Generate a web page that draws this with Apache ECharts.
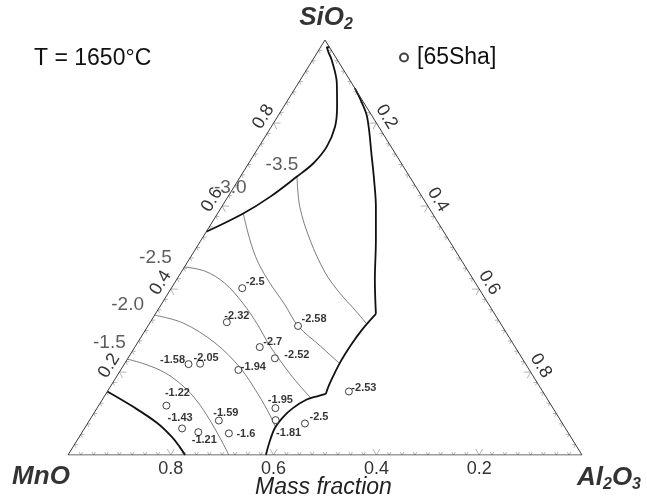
<!DOCTYPE html>
<html>
<head>
<meta charset="utf-8">
<script src="https://cdn.jsdelivr.net/npm/echarts@6/dist/echarts.min.js"></script>
<style>
  html, body { margin: 0; padding: 0; background: #fff; }
  #chart { width: 647px; height: 503px; }
</style>
</head>
<body>
<div id="chart"></div>
<script>
// MnO–SiO2–Al2O3 at 1650 °C, mass fractions; log a(MnO) measurements [65Sha]
const pointMnO   = [0.460, 0.531, 0.397, 0.497, 0.481, 0.656, 0.633, 0.566, 0.377, 0.749, 0.540, 0.665, 0.554, 0.501, 0.746, 0.719, 0.661];
const pointSiO2  = [0.402, 0.320, 0.311, 0.260, 0.233, 0.219, 0.220, 0.205, 0.153, 0.119, 0.113, 0.083, 0.084, 0.076, 0.064, 0.055, 0.052];
const pointAl2O3 = [0.138, 0.149, 0.292, 0.243, 0.286, 0.125, 0.147, 0.229, 0.470, 0.132, 0.347, 0.252, 0.362, 0.423, 0.190, 0.226, 0.287];
const pointLogA  = [-2.5, -2.32, -2.58, -2.7, -2.52, -1.58, -2.05, -1.94, -2.53, -1.22, -1.95, -1.59, -1.81, -2.5, -1.43, -1.21, -1.6];

// axis tick values (mass fraction)
const axisTicks = [0.2, 0.4, 0.6, 0.8];

// iso-activity lines, log a(MnO); points as [SiO2, Al2O3], MnO is the balance
const contourLevels = [-1.5, -2.0, -2.5, -3.0, -3.5];
const iso15 = [[0.231, 0], [0.219, 0.040], [0.198, 0.090], [0.166, 0.141], [0.130, 0.186], [0.084, 0.234], [0.036, 0.280], [0, 0.313]];
const iso20 = [[0.337, 0], [0.318, 0.065], [0.270, 0.151], [0.210, 0.230], [0.147, 0.296], [0.096, 0.345], [0.065, 0.372]];
const iso25 = [[0.453, 0], [0.443, 0.045], [0.414, 0.098], [0.366, 0.157], [0.313, 0.213], [0.270, 0.254], [0.234, 0.292], [0.186, 0.345], [0.137, 0.404]];
const iso30 = [[0.582, 0.050], [0.518, 0.095], [0.465, 0.137], [0.414, 0.186], [0.361, 0.242], [0.311, 0.292], [0.263, 0.359], [0.222, 0.416]];
const iso35 = [[0.671, 0.110], [0.598, 0.152], [0.518, 0.212], [0.439, 0.281], [0.390, 0.334], [0.349, 0.384], [0.317, 0.422]];

// liquidus boundaries, [SiO2, Al2O3]
const liqMnO      = [[0.153, 0], [0.116, 0.069], [0.077, 0.135], [0.043, 0.181], [0.019, 0.208], [0, 0.228]];
const liqSpinel   = [[0, 0.385], [0.029, 0.377], [0.065, 0.370], [0.092, 0.373], [0.113, 0.381], [0.133, 0.397], [0.142, 0.415], [0.147, 0.428]];
const liqMullite  = [[0.147, 0.428], [0.173, 0.423], [0.222, 0.418], [0.265, 0.418], [0.301, 0.421], [0.340, 0.429]];
const liqAl2O3    = [[0.340, 0.429], [0.422, 0.386], [0.518, 0.340], [0.598, 0.300], [0.663, 0.264], [0.718, 0.232], [0.814, 0.175], [0.855, 0.142], [0.884, 0.116]];
const liqSiO2     = [[0.538, 0], [0.582, 0.050], [0.622, 0.082], [0.671, 0.110], [0.703, 0.126], [0.743, 0.132], [0.791, 0.124], [0.839, 0.104], [0.896, 0.075], [0.952, 0.037], [0.971, 0.021], [0.983, 0.012], [0.982, 0.018]];

// label placement (pixels, text centre relative to the marker)
const pointLabelShift = [[13, -6], [10, -6], [16, -7], [13, -5], [22, -3], [-16, -4], [6, -6], [15, -3], [15, -4], [11, -13], [5, -8], [7, -8], [13, 13], [14, -6], [-2, -10], [6, 8], [17, 1]];
const contourLabelShift = [[-18, -16], [-27, -10], [-29, -9], [-13, -26], [-15, -12]];

// ternary composition -> cartesian position inside the triangle
function tern(si, al, mn) {
  const sum = mn === undefined ? 1 : si + al + mn;
  const s = si / sum, a = al / sum;
  return [a + s / 2, s];
}

const FONT = '"Liberation Sans", Arial, sans-serif';

// edge ticks: every 0.025, major every 0.2
const tickData = [];
for (let k = 1; k < 40; k++) {
  const v = k * 0.025;
  const major = k % 8 === 0 ? 1 : 0;
  tickData.push(tern(0, 1 - v).concat([0, major]));   // MnO along the base
  tickData.push(tern(v, 0).concat([1, major]));       // SiO2 along the left edge
  tickData.push(tern(1 - v, v).concat([2, major]));   // Al2O3 along the right edge
}
const tickLabelData = [];
axisTicks.forEach(v => {
  tickLabelData.push(tern(0, 1 - v).concat([0, v]));
  tickLabelData.push(tern(v, 0).concat([1, v]));
  tickLabelData.push(tern(1 - v, v).concat([2, v]));
});

function edgeFrame(api, edge) {
  const L = api.coord([0, 0]), R = api.coord([1, 0]), T = api.coord([0.5, 1]);
  const C = [(L[0] + R[0] + T[0]) / 3, (L[1] + R[1] + T[1]) / 3];
  const ends = edge === 0 ? [L, R] : edge === 1 ? [L, T] : [T, R];
  const dx = ends[1][0] - ends[0][0], dy = ends[1][1] - ends[0][1];
  const len = Math.hypot(dx, dy);
  const t = [dx / len, dy / len];
  let n = [-t[1], t[0]];
  const mid = [(ends[0][0] + ends[1][0]) / 2, (ends[0][1] + ends[1][1]) / 2];
  if ((C[0] - mid[0]) * n[0] + (C[1] - mid[1]) * n[1] < 0) n = [-n[0], -n[1]];
  return { t, n };
}

function lineSeries(name, pts, color, width, smooth) {
  return {
    name, type: 'line', silent: true, symbol: 'none', smooth: smooth,
    data: pts.map(p => tern(p[0], p[1])),
    lineStyle: { color, width }, z: 3
  };
}

const isoSets = [iso15, iso20, iso25, iso30, iso35];

const series = [
  {
    name: 'frame', type: 'line', silent: true, symbol: 'none',
    data: [tern(0, 0), tern(0, 1), tern(1, 0), tern(0, 0)],
    lineStyle: { color: '#3a3a3a', width: 1 }, z: 4
  },
  {
    name: 'ticks', type: 'custom', silent: true,
    data: tickData, encode: { x: 0, y: 1 },
    renderItem(params, api) {
      const p = api.coord([api.value(0), api.value(1)]);
      const f = edgeFrame(api, api.value(2));
      const w = api.value(3) ? 3.5 : 1.8, h = api.value(3) ? 6 : 3;
      return {
        type: 'polyline',
        shape: { points: [
          [p[0] - w * f.t[0] + h * f.n[0], p[1] - w * f.t[1] + h * f.n[1]],
          [p[0], p[1]],
          [p[0] + w * f.t[0] + h * f.n[0], p[1] + w * f.t[1] + h * f.n[1]]
        ] },
        style: { stroke: '#b5b5b5', fill: null, lineWidth: 1 }
      };
    }, z: 2
  },
  {
    name: 'tickLabels', type: 'custom', silent: true,
    data: tickLabelData, encode: { x: 0, y: 1 },
    renderItem(params, api) {
      const p = api.coord([api.value(0), api.value(1)]);
      const edge = api.value(2);
      const f = edgeFrame(api, edge);
      const d = edge === 0 ? 14 : 12;
      const ang = Math.atan2(-f.t[1], f.t[0]);
      return {
        type: 'text',
        x: p[0] - d * f.n[0], y: p[1] - d * f.n[1],
        rotation: edge === 0 ? 0 : ang,
        style: {
          text: api.value(3).toFixed(1), fill: '#333', font: '18px ' + FONT,
          align: 'center', verticalAlign: 'middle', textAlign: 'center', textVerticalAlign: 'middle'
        }
      };
    }, z: 5
  }
];

isoSets.forEach((pts, i) => series.push(lineSeries('iso' + i, pts, '#5a5a5a', 0.8, 0.35)));
[liqMnO, liqSpinel, liqMullite, liqAl2O3, liqSiO2].forEach((pts, i) =>
  series.push(lineSeries('liq' + i, pts, '#111', 1.8, 0.35)));

series.push({
  name: 'contourLabels', type: 'scatter', silent: true, symbolSize: 0,
  data: isoSets.map((pts, i) => ({
    value: tern(pts[0][0], pts[0][1]),
    label: { offset: contourLabelShift[i] }
  })),
  label: {
    show: true, position: 'inside', color: '#333', fontSize: 19, fontFamily: FONT,
    formatter: p => contourLevels[p.dataIndex].toFixed(1)
  }, z: 6
});

series.push({
  name: '[65Sha]', type: 'scatter', symbol: 'circle', symbolSize: 7,
  itemStyle: { color: '#fff', borderColor: '#111', borderWidth: 1 },
  data: pointLogA.map((v, i) => ({
    value: tern(pointSiO2[i], pointAl2O3[i], pointMnO[i]),
    label: { offset: pointLabelShift[i] }
  })),
  label: {
    show: true, position: 'inside', color: '#000', fontSize: 11, fontWeight: 'bold', fontFamily: FONT,
    formatter: p => String(pointLogA[p.dataIndex])
  }, z: 7
});

// component names at the corners
const vertexRich = {
  b: { fontSize: 26, fontWeight: 'bold', fontStyle: 'italic', fontFamily: FONT, color: '#000' },
  s: { fontSize: 16, fontWeight: 'bold', fontStyle: 'italic', fontFamily: FONT, color: '#000', padding: [14, 0, 0, 0] }
};
series.push({
  name: 'vertices', type: 'scatter', silent: true, symbolSize: 0,
  data: [
    { value: tern(0, 0, 1), label: { offset: [-27, 22], formatter: '{b|MnO}' } },
    { value: tern(1, 0, 0), label: { offset: [1, -22], formatter: '{b|SiO}{s|2}' } },
    { value: tern(0, 1, 0), label: { offset: [27, 23], formatter: '{b|Al}{s|2}{b|O}{s|3}' } }
  ],
  label: { show: true, position: 'inside', rich: vertexRich }, z: 6
});

const option = {
  animation: false,
  backgroundColor: '#fff',
  title: {
    text: 'T = 1650°C', left: 29, top: 42,
    textStyle: { fontSize: 23, fontWeight: 'normal', color: '#111', fontFamily: FONT }
  },
  legend: {
    data: ['[65Sha]'], left: 394, top: 41, icon: 'circle',
    itemWidth: 8, itemHeight: 8, itemGap: 6,
    textStyle: { fontSize: 23, color: '#111', fontFamily: FONT, padding: [0, 0, 0, 4] }
  },
  grid: { left: 68, top: 40, width: 514, height: 415 },
  xAxis: { type: 'value', min: 0, max: 1, show: false },
  yAxis: { type: 'value', min: 0, max: 1, show: false },
  graphic: [{
    type: 'text', left: 'center', top: 476,
    style: { text: 'Mass fraction', font: 'italic 23px ' + FONT, fill: '#222' }
  }],
  series
};

const chart = echarts.init(document.getElementById('chart'));
chart.setOption(option);
</script>
</body>
</html>
